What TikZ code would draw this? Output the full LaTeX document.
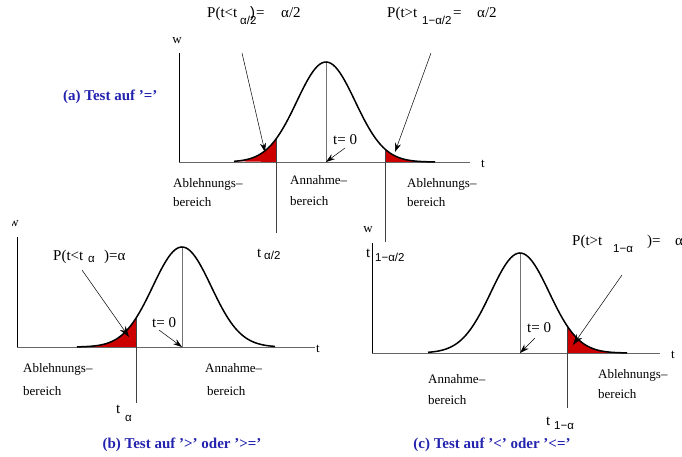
\documentclass[tikz,border=0pt]{standalone}
\usepackage{fontspec}
\setmainfont{Liberation Serif}
\newfontfamily\subf{Liberation Sans}
\usetikzlibrary{arrows.meta}
\definecolor{tailred}{RGB}{204,0,0}
\definecolor{ttlblue}{RGB}{35,35,175}
\begin{document}
\begin{tikzpicture}[x=1pt,y=-1pt,
  lbl/.style={inner sep=0pt,anchor=base west,font=\fontsize{13}{15}\selectfont},
  big/.style={inner sep=0pt,anchor=base west,font=\fontsize{15}{17}\selectfont},
  subl/.style={inner sep=0pt,anchor=base west,font=\subf\fontsize{11.5}{13}\selectfont},
  axl/.style={inner sep=0pt,font=\fontsize{13}{15}\selectfont},
  zer/.style={inner sep=0pt,anchor=base west,font=\fontsize{15}{17}\selectfont},
  ttl/.style={inner sep=0pt,font=\bfseries\fontsize{15}{17}\selectfont,text=ttlblue},
  yax/.style={draw=black,line width=0.8pt},
  xax/.style={draw=black!60,line width=0.9pt},
  mid/.style={draw=black!55,line width=0.9pt},
  cut/.style={draw=black!75,line width=0.8pt},
  curve/.style={draw=black,line width=1.5pt},
  ptr/.style={draw=black,line width=0.5pt,-{Stealth[length=9pt,width=6pt]}}]
\useasboundingbox (0,0) rectangle (682,457);

% ================= panel (a)
\coordinate (aO) at (179,162);
\coordinate (aYt) at (179,53);
\coordinate (aXe) at (470,162);
\draw[yax] (aYt) -- (aO);
\fill[tailred] plot[domain=-92:-50,samples=40] ({326+\x},{162-100*exp(-\x*\x/1700)}) -- (276,162) -- cycle;
\fill[tailred] (385,162) -- plot[domain=59:109,samples=40] ({326+\x},{162-100*exp(-\x*\x/1700)}) -- cycle;
\draw[xax] (aO) -- (aXe);
\coordinate (aPk) at (326,62);
\coordinate (aC) at (326,162);
\draw[mid] (aPk) -- (aC);
\coordinate (aL) at (276,{162-100*exp(-50*50/1700)});
\coordinate (aLb) at (276,233);
\coordinate (aR) at (385,{162-100*exp(-59*59/1700)});
\coordinate (aRb) at (385,242);
\draw[cut] (aL) -- (aLb);
\draw[cut] (aR) -- (aRb);
\draw[curve] plot[domain=-92:109,samples=90] ({326+\x},{162-100*exp(-\x*\x/1700)});
\node[axl] (aw) at (177,41) {w};
\node[axl] (at) at (483,164) {t};
\node[zer] (at0) at (333,145) {t= 0};
\coordinate (at0s) at (345,148);
\draw[ptr] (at0s) -- (aC);
\node[ttl,anchor=west] (ta) at (63,97) {(a) Test auf ’=’};
\node[lbl] (aab1) at (173,188) {Ablehnungs–};
\node[lbl] (aab2) at (173,207) {bereich};
\node[lbl] (aan1) at (290,185) {Annahme–};
\node[lbl] (aan2) at (290,205) {bereich};
\node[lbl] (aar1) at (407,188) {Ablehnungs–};
\node[lbl] (aar2) at (407,207) {bereich};
% left probability label
\node[big] (pl1) at (207,18) {P(t<t};
\node[subl] (pl3) at (250,18) {\fontsize{15}{17}\selectfont)};
\node[subl] (pl2) at (240,25) {α/2};
\node[big] (pl4) at (256,18) {=};
\node[big] (pl5) at (281,18) {α/2};
\coordinate (plS) at (242,53);
\coordinate (plE) at (265,152);
\draw[ptr] (plS) -- (plE);
% right probability label
\node[big] (pr1) at (387,18) {P(t>t};
\node[subl] (pr2) at (422,25) {1−α/2};
\node[big] (pr4) at (453,18) {=};
\node[big] (pr5) at (477,18) {α/2};
\coordinate (prS) at (431,53);
\coordinate (prE) at (395,152);
\draw[ptr] (prS) -- (prE);
% cut labels
\node[big] (ta2) at (257,257) {t};
\node[subl] (ta2s) at (264,259) {α/2};
\node[big] (tb2) at (366,257) {t};
\node[subl] (tb2s) at (375,261) {1−α/2};

% ================= panel (b)
\coordinate (bO) at (17,347);
\coordinate (bYt) at (17,237);
\coordinate (bXe) at (315,347);
\draw[yax] (bYt) -- (bO);
\fill[tailred] plot[domain=-105:-46,samples=40] ({182+\x},{347-100*exp(-\x*\x/1700)}) -- (136,347) -- cycle;
\draw[xax] (bO) -- (bXe);
\coordinate (bPk) at (182,247);
\coordinate (bC) at (182,347);
\draw[mid] (bPk) -- (bC);
\coordinate (bL) at (136,{347-100*exp(-46*46/1700)});
\coordinate (bLb) at (136,403);
\draw[cut] (bL) -- (bLb);
\draw[curve] plot[domain=-105:93,samples=90] ({182+\x},{347-100*exp(-\x*\x/1700)});
\begin{scope}
\clip (12.5,212) rectangle (30,232);
\node[axl] (bw) at (14,224) {w};
\end{scope}
\node[axl] (bt) at (318,349) {t};
\node[zer] (bt0) at (152,327) {t= 0};
\coordinate (bt0s) at (159,330);
\draw[ptr] (bt0s) -- (bC);
\node[lbl] (bab1) at (23,372) {Ablehnungs–};
\node[lbl] (bab2) at (23,395) {bereich};
\node[lbl] (ban1) at (205,372) {Annahme–};
\node[lbl] (ban2) at (207,395) {bereich};
\node[big] (pb1) at (53,260) {P(t<t};
\node[subl] (pb2) at (88,262) {α};
\node[big] (pb3) at (104,260) {)=α};
\coordinate (pbS) at (82,270);
\coordinate (pbE) at (129,337);
\draw[ptr,-{Stealth[length=11pt,width=7pt]}] (pbS) -- (pbE);
\node[big] (tba) at (116,413) {t};
\node[subl] (tbas) at (125,421) {α};
\node[ttl] (tb) at (182,445) {(b) Test auf ’>’ oder ’>=’};

% ================= panel (c)
\coordinate (cO) at (372,353);
\coordinate (cYt) at (372,243);
\coordinate (cXe) at (660,353);
\draw[yax] (cYt) -- (cO);
\fill[tailred] (567,353) -- plot[domain=47:107,samples=40] ({520+\x},{353-100*exp(-\x*\x/1700)}) -- cycle;
\draw[xax] (cO) -- (cXe);
\coordinate (cPk) at (520,253);
\coordinate (cC) at (520,353);
\draw[mid] (cPk) -- (cC);
\coordinate (cR) at (567,{353-100*exp(-47*47/1700)});
\coordinate (cRb) at (567,408);
\draw[cut] (cR) -- (cRb);
\draw[curve] plot[domain=-92:107,samples=90] ({520+\x},{353-100*exp(-\x*\x/1700)});
\node[axl] (cw) at (368,230) {w};
\node[axl] (ct) at (673,355) {t};
\node[zer] (ct0) at (527,332) {t= 0};
\coordinate (ct0s) at (535,338);
\draw[ptr] (ct0s) -- (cC);
\node[lbl] (can1) at (428,383) {Annahme–};
\node[lbl] (can2) at (428,404) {bereich};
\node[lbl] (car1) at (598,378) {Ablehnungs–};
\node[lbl] (car2) at (598,398) {bereich};
\node[big] (pc1) at (572,245) {P(t>t};
\node[subl] (pc2) at (613,252) {1−α};
\node[big] (pc3) at (647,245) {)=};
\node[big] (pc4) at (675,245) {α};
\coordinate (pcS) at (622,275);
\coordinate (pcE) at (573,345);
\draw[ptr,-{Stealth[length=11pt,width=7pt]}] (pcS) -- (pcE);
\node[big] (tca) at (546,425) {t};
\node[subl] (tcas) at (554,429) {1−α};
\node[ttl] (tc) at (492,445) {(c) Test auf ’<’ oder ’<=’};
\end{tikzpicture}
\end{document}
